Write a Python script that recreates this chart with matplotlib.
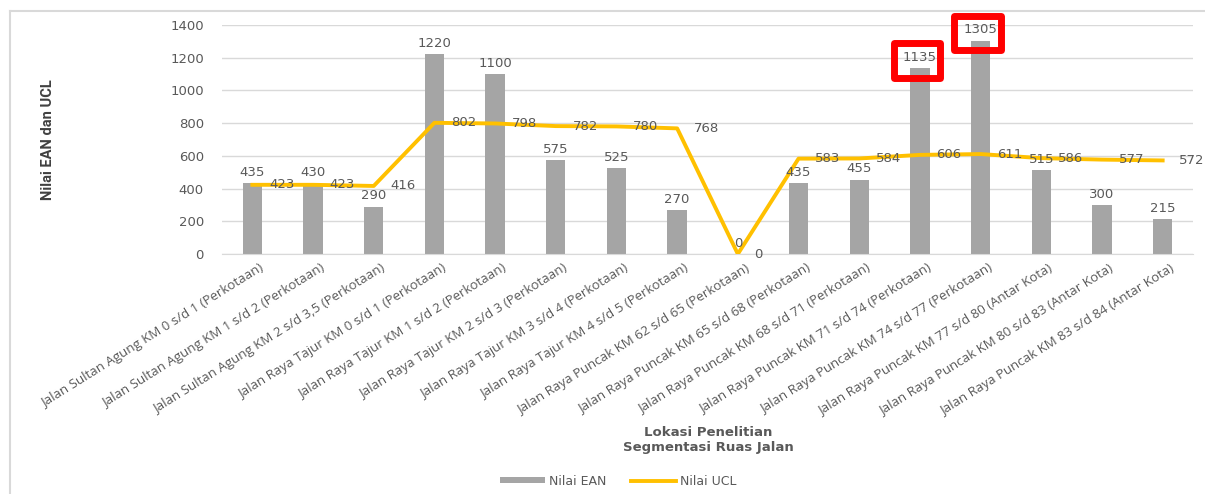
import matplotlib
matplotlib.use("Agg")
import matplotlib.pyplot as plt
from matplotlib import font_manager
from matplotlib.patches import Rectangle, Patch
from matplotlib.lines import Line2D
import numpy as np

# road segments along the survey route
segments = [
    "Jalan Sultan Agung KM 0 s/d 1 (Perkotaan)",
    "Jalan Sultan Agung KM 1 s/d 2 (Perkotaan)",
    "Jalan Sultan Agung KM 2 s/d 3,5 (Perkotaan)",
    "Jalan Raya Tajur KM 0 s/d 1 (Perkotaan)",
    "Jalan Raya Tajur KM 1 s/d 2 (Perkotaan)",
    "Jalan Raya Tajur KM 2 s/d 3 (Perkotaan)",
    "Jalan Raya Tajur KM 3 s/d 4 (Perkotaan)",
    "Jalan Raya Tajur KM 4 s/d 5 (Perkotaan)",
    "Jalan Raya Puncak KM 62 s/d 65 (Perkotaan)",
    "Jalan Raya Puncak KM 65 s/d 68 (Perkotaan)",
    "Jalan Raya Puncak KM 68 s/d 71 (Perkotaan)",
    "Jalan Raya Puncak KM 71 s/d 74 (Perkotaan)",
    "Jalan Raya Puncak KM 74 s/d 77 (Perkotaan)",
    "Jalan Raya Puncak KM 77 s/d 80 (Antar Kota)",
    "Jalan Raya Puncak KM 80 s/d 83 (Antar Kota)",
    "Jalan Raya Puncak KM 83 s/d 84 (Antar Kota)",
]
nilai_ean = [435, 430, 290, 1220, 1100, 575, 525, 270, 0, 435, 455, 1135, 1305, 515, 300, 215]
nilai_ucl = [423, 423, 416, 802, 798, 782, 780, 768, 0, 583, 584, 606, 611, 586, 577, 572]
y_ticks = [0, 200, 400, 600, 800, 1000, 1200, 1400]
# segments whose EAN exceeds the control limit, boxed in red
highlight = [11, 12]

installed = {f.name for f in font_manager.fontManager.ttflist}
narrow = "Liberation Sans Narrow" if "Liberation Sans Narrow" in installed else "Roboto"

GREY_TXT = "#595959"
BAR_C = "#A5A5A5"
LINE_C = "#FFC000"
GRID_C = "#D9D9D9"

fig = plt.figure(figsize=(12.05, 4.94), dpi=100)
ax = fig.add_axes([222 / 1205, 1 - 254 / 494, (1193 - 222) / 1205, (254 - 25) / 494])

x = np.arange(len(segments))
ax.bar(x, nilai_ean, width=0.32, color=BAR_C, zorder=2)
ax.plot(x, nilai_ucl, color=LINE_C, lw=2.8, zorder=3)

# data labels: EAN above bars, UCL to the right of each point
for i, v in enumerate(nilai_ean):
    ax.annotate(str(v), (i, v), xytext=(0, 3), textcoords="offset points",
                ha="center", va="bottom", fontsize=9.5, color=GREY_TXT,
                family="DejaVu Sans", zorder=5)
for i, u in enumerate(nilai_ucl):
    ax.annotate(str(u), (i, u), xytext=(12, 0), textcoords="offset points",
                ha="left", va="center", fontsize=9.5, color=GREY_TXT,
                family="DejaVu Sans", annotation_clip=False, zorder=5)

for i in highlight:
    v = nilai_ean[i]
    ax.add_patch(Rectangle((i - 0.43, v - 57), 0.76, 209, fill=False,
                           edgecolor="#FF0000", lw=5, joinstyle="round",
                           clip_on=False, zorder=6))

ax.set_xlim(-0.5, len(segments) - 0.5)
ax.set_ylim(0, 1400)
ax.set_yticks(y_ticks)
ax.set_yticklabels([str(t) for t in y_ticks], family="DejaVu Sans",
                   fontsize=9.5, color=GREY_TXT)
ax.tick_params(axis="y", length=0, pad=13)
ax.tick_params(axis="x", length=0)
ax.set_xticks(x)
ax.set_xticklabels(segments, rotation=32, ha="right", va="top",
                   rotation_mode="anchor", fontsize=9.5, color=GREY_TXT,
                   family="Open Sans")
for lbl in ax.get_xticklabels():
    lbl.set_transform(lbl.get_transform() +
                      matplotlib.transforms.ScaledTranslation(7 / 100, -3 / 100, fig.dpi_scale_trans))

ax.grid(axis="y", color=GRID_C, lw=1, zorder=0)
for s in ["top", "right", "left"]:
    ax.spines[s].set_visible(False)
ax.spines["bottom"].set_color(GRID_C)

fig.text(48 / 1205, 1 - 140 / 494, "Nilai EAN dan UCL", rotation=90,
         ha="center", va="center", fontsize=10.5, fontweight="bold",
         family=narrow, color="#404040")
fig.text(708 / 1205, 1 - 440 / 494, "Lokasi Penelitian\nSegmentasi Ruas Jalan",
         ha="center", va="center", fontsize=9.5, fontweight="bold",
         family="DejaVu Sans", color=GREY_TXT, linespacing=1.2)

handles = [Patch(facecolor=BAR_C, label="Nilai EAN"),
           Line2D([], [], color=LINE_C, lw=2.8, label="Nilai UCL")]
fig.legend(handles=handles, loc="center", bbox_to_anchor=(618 / 1205, 1 - 481 / 494),
           ncol=2, frameon=False, handlelength=3.6, handleheight=0.45,
           columnspacing=2.0, handletextpad=0.3,
           prop={"family": "DejaVu Sans", "size": 9}, labelcolor=GREY_TXT)

# chart area frame (top and left edges)
fig.add_artist(Line2D([10 / 1205, 10 / 1205], [0, 1 - 11 / 494], color=GRID_C, lw=1.5))
fig.add_artist(Line2D([10 / 1205, 1], [1 - 11 / 494, 1 - 11 / 494], color=GRID_C, lw=1.5))

fig.savefig("out.png", dpi=100)
